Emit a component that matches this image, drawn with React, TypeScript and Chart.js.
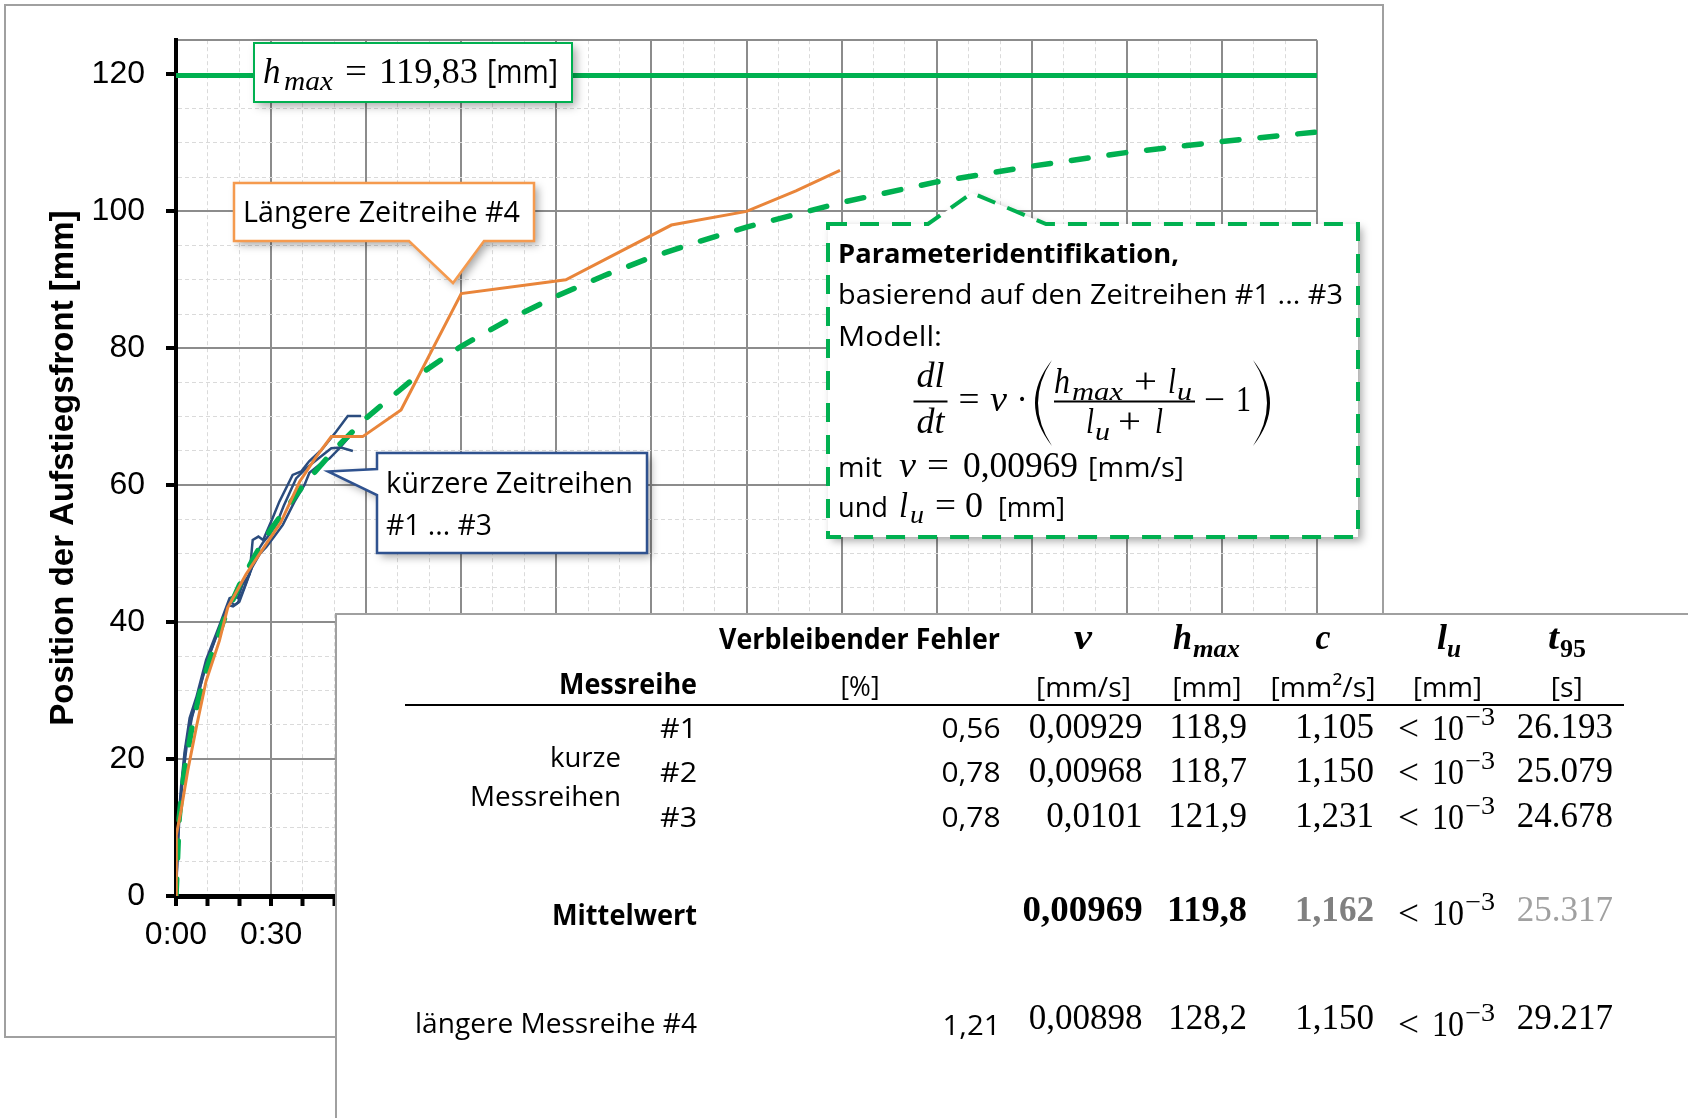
import { useEffect, useRef } from 'react';
import { Chart, registerables } from 'chart.js';
Chart.register(...registerables);

// ---------------- data ----------------
const hMax = 119.83;

// model curve (green dashed): time [min], position [mm]
const modelTime = [0, 1, 2, 3, 5, 7.5, 10, 15, 20, 25, 30, 40, 50, 60, 75, 90, 105, 120, 135, 150, 165, 180, 210, 240, 270, 300, 330, 360];
const modelPos = [0, 11.4, 15.9, 19.3, 24.5, 29.6, 33.6, 40.2, 45.4, 49.8, 53.6, 59.9, 65.2, 69.8, 75.6, 80.3, 84.2, 87.6, 90.6, 93.3, 95.6, 97.7, 101.3, 104.3, 106.6, 108.6, 110.2, 111.6];

// longer series #4 (orange)
const s4Time = [0, 0.1, 1.6, 3.7, 6.4, 9.5, 13.7, 16.3, 22.1, 29, 33, 39, 44, 49, 58.9, 71, 90, 123, 156.3, 180, 195.6, 209.5];
const s4Pos = [0, 8.9, 12.5, 18.3, 24.6, 31.4, 37.3, 42.1, 47, 51.8, 54.5, 60.5, 64, 67.1, 67.1, 71, 88, 90, 98, 100, 103, 106];

// shorter series #1..#3 (blue)
const s1Time = [0, 0.4, 0.8, 1.6, 2.7, 4.3, 6.4, 9.5, 13.7, 16.9, 18.5, 19.5, 21, 23.2, 24.2, 26, 27.5, 30.5, 32.6, 36.8, 39.5, 42, 45.8, 50.5, 54.2, 58.4];
const s1Pos = [0, 6, 11, 16, 21, 26, 29, 34.5, 39.5, 43.5, 43.8, 43.5, 45.5, 47, 52, 52.5, 52, 55.2, 57.6, 61.5, 62, 63.5, 65.1, 67.8, 70.1, 70.1];
const s2Time = [0, 0.5, 1, 2, 3, 4.5, 6.5, 9.5, 13.5, 16.5, 18, 19.5, 21.5, 23.5, 26.3, 27.4, 29, 31.6, 34, 37.9, 41.1, 46.3, 49, 52, 55.8];
const s2Pos = [0, 7, 12, 17, 21.5, 25.5, 28.5, 34, 39, 42.5, 42.3, 42.8, 45, 47.5, 50.8, 51.6, 52.5, 54.2, 57, 61, 62.5, 64.4, 65.4, 65.5, 65];
const s3Time = [0, 0.6, 1.2, 2.2, 3.4, 5, 7, 10, 14, 17, 18.5, 20, 22, 24, 26.5, 28.5, 31, 33.7, 37.4, 40.5, 42.1, 45.8, 48.4, 51.6, 54.7];
const s3Pos = [0, 7.5, 12.5, 17.5, 22, 26, 29.5, 34.5, 39.5, 43, 42.5, 43, 45.5, 48, 50, 51, 52.5, 54.2, 57.6, 60, 61.8, 63.2, 63.9, 65.4, 67.1];

// axis ticks
const xTickValues = [0, 30, 60, 90, 120, 150, 180, 210, 240, 270, 300, 330, 360];
const xTickLabels = ['0:00', '0:30', '1:00', '1:30', '2:00', '2:30', '3:00', '3:30', '4:00', '4:30', '5:00', '5:30', '6:00'];
const yTickValues = [0, 20, 40, 60, 80, 100, 120];
const yTickLabels = ['0', '20', '40', '60', '80', '100', '120'];

// table
const shortRows = ['#1', '#2', '#3'];
const errPct = [0.56, 0.78, 0.78];
const vVals = ['0,00929', '0,00968', '0,0101'];
const hmaxVals = [118.9, 118.7, 121.9];
const cVals = [1.105, 1.15, 1.231];
const t95Vals = [26193, 25079, 24678];
const meanV = '0,00969';
const meanHmax = 119.8;
const meanC = 1.162;
const meanT95 = 25317;
const longErr = 1.21;
const longV = '0,00898';
const longHmax = 128.2;
const longC = 1.15;
const longT95 = 29217;

// ---------------- helpers ----------------
const SANS = '"Open Sans", "Noto Sans", sans-serif';
const SERIF = '"Liberation Serif", "DejaVu Serif", serif';
const ARIAL = '"Liberation Sans", Arial, sans-serif';
const GREEN = '#00B050';

const comma = (v: number, d: number) => v.toFixed(d).replace('.', ',');
const thousands = (v: number) => {
  const s = String(v);
  return s.slice(0, s.length - 3) + '.' + s.slice(s.length - 3);
};

function put(ctx: CanvasRenderingContext2D, s: string, x: number, y: number, font: string,
  align: 'left' | 'right' | 'center' = 'left', color = '#000', w?: number) {
  ctx.save();
  ctx.font = font;
  ctx.fillStyle = color;
  ctx.textBaseline = 'alphabetic';
  ctx.textAlign = 'left';
  const m = ctx.measureText(s).width;
  const k = w ? w / m : 1;
  const tw = m * k;
  const left = align === 'left' ? x : align === 'right' ? x - tw : x - tw / 2;
  ctx.translate(left, y);
  ctx.scale(k, 1);
  ctx.fillText(s, 0, 0);
  ctx.restore();
}

function shadowFill(ctx: CanvasRenderingContext2D, path: () => void) {
  ctx.save();
  ctx.shadowColor = 'rgba(0,0,0,0.35)';
  ctx.shadowBlur = 9;
  ctx.shadowOffsetX = 4;
  ctx.shadowOffsetY = 4;
  ctx.fillStyle = '#fff';
  path();
  ctx.fill();
  ctx.restore();
}

function paren(ctx: CanvasRenderingContext2D, x0: number, top: number, bot: number, bulge: number, thick: number, dir: number) {
  const mid = (top + bot) / 2;
  ctx.beginPath();
  ctx.moveTo(x0, top);
  ctx.quadraticCurveTo(x0 + dir * bulge * 2, mid, x0, bot);
  ctx.quadraticCurveTo(x0 + dir * (bulge - thick) * 2, mid, x0, top);
  ctx.closePath();
  ctx.fill();
}

function lessPow(ctx: CanvasRenderingContext2D, y: number) {
  put(ctx, '<', 1398, y + 2, `36px ${SERIF}`, 'left', '#000', 21);
  put(ctx, '10', 1432, y + 2, `36px ${SERIF}`, 'left', '#000', 32);
  put(ctx, '\u22123', 1465, y - 13, `25px ${SERIF}`, 'left', '#000', 30);
}

const decor = {
  id: 'decor',
  beforeDraw(chart: any) {
    const ctx: CanvasRenderingContext2D = chart.ctx;
    ctx.save();
    ctx.fillStyle = '#fff';
    ctx.fillRect(0, 0, chart.width, chart.height);
    ctx.strokeStyle = '#A0A0A0';
    ctx.lineWidth = 2;
    ctx.strokeRect(5, 5, 1378, 1032);
    ctx.restore();
  },
  afterDatasetsDraw(chart: any) {
    const ctx: CanvasRenderingContext2D = chart.ctx;
    ctx.save();

    // h_max box
    const hb = () => { ctx.beginPath(); ctx.rect(254, 43, 318, 59); };
    shadowFill(ctx, hb);
    hb(); ctx.strokeStyle = GREEN; ctx.lineWidth = 2; ctx.stroke();
    put(ctx, 'h', 263, 83, `italic 35px ${SERIF}`);
    put(ctx, 'max', 284, 90, `italic 27px ${SERIF}`, 'left', '#000', 49);
    put(ctx, '=', 345, 83, `35px ${SERIF}`, 'left', '#000', 22);
    put(ctx, comma(hMax, 2), 379, 83, `35px ${SERIF}`, 'left', '#000', 99);
    put(ctx, '[mm]', 487, 83, `32px ${SANS}`, 'left', '#000', 71);

    // orange callout
    const ob = () => {
      ctx.beginPath();
      ctx.moveTo(234, 183); ctx.lineTo(534, 183); ctx.lineTo(534, 241); ctx.lineTo(484, 241);
      ctx.lineTo(453, 283); ctx.lineTo(409, 241); ctx.lineTo(234, 241); ctx.closePath();
    };
    shadowFill(ctx, ob);
    ob(); ctx.strokeStyle = '#F59A4E'; ctx.lineWidth = 2.5; ctx.lineJoin = 'miter'; ctx.stroke();
    put(ctx, 'Längere Zeitreihe #4', 243, 222, `29px ${SANS}`, 'left', '#000', 277);

    // blue callout
    const bb = () => {
      ctx.beginPath();
      ctx.moveTo(377, 453); ctx.lineTo(647, 453); ctx.lineTo(647, 553); ctx.lineTo(377, 553);
      ctx.lineTo(377, 495); ctx.lineTo(328, 471.5); ctx.lineTo(377, 469); ctx.closePath();
    };
    shadowFill(ctx, bb);
    bb(); ctx.strokeStyle = '#2F528F'; ctx.lineWidth = 2.5; ctx.stroke();
    put(ctx, 'kürzere Zeitreihen', 386, 493, `29px ${SANS}`, 'left', '#000', 247);
    put(ctx, '#1 ... #3', 386, 535, `29px ${SANS}`, 'left', '#000', 106);

    // parameter callout
    const pb = () => {
      ctx.beginPath();
      ctx.moveTo(828, 224); ctx.lineTo(928, 224); ctx.lineTo(972, 193); ctx.lineTo(1046, 224);
      ctx.lineTo(1358, 224); ctx.lineTo(1358, 537); ctx.lineTo(828, 537); ctx.closePath();
    };
    shadowFill(ctx, pb);
    pb(); ctx.save(); ctx.strokeStyle = GREEN; ctx.lineWidth = 4; ctx.setLineDash([19, 13]); ctx.stroke(); ctx.restore();

    put(ctx, 'Parameteridentifikation,', 838, 263, `bold 27px ${SANS}`, 'left', '#000', 341);
    put(ctx, 'basierend auf den Zeitreihen #1 ... #3', 838, 304, `27px ${SANS}`, 'left', '#000', 505);
    put(ctx, 'Modell:', 838, 346, `27px ${SANS}`, 'left', '#000', 104);
    // formula
    const MI = `italic 35px ${SERIF}`;
    const MR = `35px ${SERIF}`;
    const MS = `italic 25px ${SERIF}`;
    put(ctx, 'dl', 930.5, 387, MI, 'center', '#000', 28);
    put(ctx, 'dt', 930.5, 433, MI, 'center', '#000', 28);
    ctx.fillStyle = '#000';
    ctx.fillRect(913.5, 400.5, 34, 2);
    put(ctx, '=', 969, 411, MR, 'center', '#000', 21);
    put(ctx, 'v', 990, 411, MI, 'left', '#000', 17);
    put(ctx, '\u00B7', 1022, 411, MR, 'center');
    paren(ctx, 1052, 360, 446, 17, 3, -1);
    paren(ctx, 1253, 360, 446, 17, 3, 1);
    put(ctx, 'h', 1054, 393, MI, 'left', '#000', 16);
    put(ctx, 'max', 1072, 400, MS, 'left', '#000', 51);
    put(ctx, '+', 1134, 393, MR, 'left', '#000', 23);
    put(ctx, 'l', 1168, 393, MI, 'left', '#000', 8);
    put(ctx, 'u', 1177, 400, MS, 'left', '#000', 15);
    ctx.fillRect(1054, 400.5, 141, 2);
    put(ctx, 'l', 1086, 433, MI, 'left', '#000', 8);
    put(ctx, 'u', 1095, 440, MS, 'left', '#000', 15);
    put(ctx, '+', 1118, 433, MR, 'left', '#000', 23);
    put(ctx, 'l', 1155, 433, MI, 'left', '#000', 8);
    put(ctx, '\u2212', 1204, 411, MR, 'left', '#000', 21);
    put(ctx, '1', 1236, 411, MR, 'left', '#000', 15);
    // mit / und
    put(ctx, 'mit', 838, 477, `27px ${SANS}`, 'left', '#000', 44);
    put(ctx, 'v', 899, 477, MI, 'left', '#000', 17);
    put(ctx, '=', 927, 477, MR, 'left', '#000', 22);
    put(ctx, meanV, 963, 477, MR, 'left', '#000', 115);
    put(ctx, '[mm/s]', 1088, 477, `27px ${SANS}`, 'left', '#000', 96);
    put(ctx, 'und', 838, 517, `27px ${SANS}`, 'left', '#000', 50);
    put(ctx, 'l', 899, 517, MI, 'left', '#000', 9);
    put(ctx, 'u', 910, 523, MS, 'left', '#000', 14);
    put(ctx, '=', 935, 517, MR, 'left', '#000', 21);
    put(ctx, '0', 965, 517, MR, 'left', '#000', 18);
    put(ctx, '[mm]', 998, 517, `27px ${SANS}`, 'left', '#000', 67);

    ctx.restore();
  },
  afterDraw(chart: any) {
    const ctx: CanvasRenderingContext2D = chart.ctx;
    ctx.save();
    // table panel
    ctx.fillStyle = '#fff';
    ctx.fillRect(336, 614, 1400, 600);
    ctx.strokeStyle = '#A0A0A0';
    ctx.lineWidth = 2;
    ctx.beginPath();
    ctx.moveTo(336, 1130); ctx.lineTo(336, 614); ctx.lineTo(1700, 614);
    ctx.stroke();

    const S = `28px ${SANS}`;
    const SB = `bold 28px ${SANS}`;
    const N = `35px ${SERIF}`;
    const NB = `bold 36px ${SERIF}`;
    const HB = `italic bold 35px ${SERIF}`;
    const HS = `italic bold 25px ${SERIF}`;

    // header
    put(ctx, 'Verbleibender Fehler', 1000, 649, SB, 'right', '#000', 281);
    put(ctx, 'v', 1083, 649, HB, 'center', '#000', 18);
    put(ctx, 'h', 1173, 649, HB, 'left', '#000', 19);
    put(ctx, 'max', 1193, 657, HS, 'left', '#000', 47);
    put(ctx, 'c', 1323, 649, HB, 'center', '#000', 15);
    put(ctx, 'l', 1437, 649, HB, 'left', '#000', 10);
    put(ctx, 'u', 1447, 657, HS, 'left', '#000', 14);
    put(ctx, 't', 1548, 649, HB, 'left', '#000', 11);
    put(ctx, '95', 1560, 657, `bold 25px ${SERIF}`, 'left', '#000', 26);
    put(ctx, 'Messreihe', 697, 694, SB, 'right', '#000', 138);
    put(ctx, '[%]', 860, 696, S, 'center', '#000', 39);
    put(ctx, '[mm/s]', 1083.5, 697, S, 'center', '#000', 95);
    put(ctx, '[mm]', 1207, 697, S, 'center', '#000', 69);
    put(ctx, '[mm\u00B2/s]', 1323, 697, S, 'center', '#000', 105);
    put(ctx, '[mm]', 1447.5, 697, S, 'center', '#000', 69);
    put(ctx, '[s]', 1566.7, 697, S, 'center', '#000', 32);
    ctx.fillStyle = '#000';
    ctx.fillRect(405, 704, 1219, 2);

    const rowY = [738, 782, 827];
    shortRows.forEach((r, i) => {
      const y = rowY[i];
      put(ctx, r, 697, y, S, 'right', '#000', 37);
      put(ctx, comma(errPct[i], 2), 1000.5, y, S, 'right', '#000', 59);
      put(ctx, vVals[i], 1142.6, y, N, 'right');
      put(ctx, comma(hmaxVals[i], 1), 1247, y, N, 'right');
      put(ctx, comma(cVals[i], 3), 1374, y, N, 'right');
      lessPow(ctx, y);
      put(ctx, thousands(t95Vals[i]), 1613, y, N, 'right');
    });
    put(ctx, 'kurze', 621, 767, S, 'right', '#000', 71);
    put(ctx, 'Messreihen', 621, 806, S, 'right', '#000', 151);

    // mean row
    put(ctx, 'Mittelwert', 697, 925, SB, 'right', '#000', 145);
    put(ctx, meanV, 1142.6, 921, NB, 'right', '#000', 120);
    put(ctx, comma(meanHmax, 1), 1247, 921, NB, 'right', '#000', 80);
    put(ctx, comma(meanC, 3), 1374, 921, NB, 'right', '#808080', 79);
    lessPow(ctx, 923);
    put(ctx, thousands(meanT95), 1613, 921, N, 'right', '#A0A0A0');

    // long row
    put(ctx, 'längere Messreihe #4', 697, 1033, S, 'right', '#000', 282);
    put(ctx, comma(longErr, 2), 1000.5, 1035, S, 'right', '#000', 58);
    put(ctx, longV, 1142.6, 1029, N, 'right');
    put(ctx, comma(longHmax, 1), 1247, 1029, N, 'right');
    put(ctx, comma(longC, 3), 1374, 1029, N, 'right');
    lessPow(ctx, 1034);
    put(ctx, thousands(longT95), 1613, 1029, N, 'right');

    ctx.restore();
  },
};

const pts = (t: number[], v: number[]) => t.map((x, i) => ({ x, y: v[i] }));

const isMajorX = (v: number) => xTickValues.includes(v);
const isMajorY = (v: number) => yTickValues.includes(v) || v === 125;

export default function App() {
  const ref = useRef<HTMLCanvasElement>(null);
  useEffect(() => {
    const blue = '#2B4C7E';
    const lineDs = (label: string, data: any[], color: string, width: number, extra: any = {}) => ({
      label, data, borderColor: color, borderWidth: width, showLine: true, pointRadius: 0,
      pointHoverRadius: 0, fill: false, tension: 0, ...extra,
    });
    const chart = new Chart(ref.current!, {
      type: 'scatter',
      data: {
        datasets: [
          lineDs('#4', pts(s4Time, s4Pos), '#E9853A', 3),
          lineDs('Modell', pts(modelTime, modelPos), GREEN, 5.5, { borderDash: [17, 21], borderCapStyle: 'round' }),
          lineDs('#1', pts(s1Time, s1Pos), blue, 2.5),
          lineDs('#2', pts(s2Time, s2Pos), blue, 2.5),
          lineDs('#3', pts(s3Time, s3Pos), blue, 2.5),
          lineDs('hmax', [{ x: 0, y: hMax }, { x: 360, y: hMax }], GREEN, 5),
        ],
      },
      options: {
        responsive: false,
        animation: false,
        devicePixelRatio: 1,
        events: [],
        layout: { padding: { left: 0, top: 38, right: 371, bottom: 162 } },
        plugins: { legend: { display: false }, tooltip: { enabled: false } },
        scales: {
          x: {
            type: 'linear',
            min: 0,
            max: 360,
            afterFit: (s: any) => { s.height = 60; },
            ticks: {
              stepSize: 10,
              autoSkip: false,
              maxRotation: 0,
              minRotation: 0,
              padding: 10,
              color: '#000',
              font: { family: ARIAL, size: 32 },
              callback: (v: any) => {
                const i = xTickValues.indexOf(Number(v));
                return i >= 0 ? xTickLabels[i] : '';
              },
            },
            grid: {
              color: (c: any) => (c.tick && isMajorX(c.tick.value) ? '#8C8C8C' : '#DADADA'),
              lineWidth: (c: any) => (c.tick && isMajorX(c.tick.value) ? 2 : 1),
              tickColor: '#000',
              tickWidth: 4,
              tickLength: 10,
            },
            border: {
              color: '#000',
              width: 5,
              dash: (c: any) => (c.tick && !isMajorX(c.tick.value) ? [4, 3] : []),
            },
          },
          y: {
            type: 'linear',
            min: 0,
            max: 125,
            afterFit: (s: any) => { s.width = 176; },
            title: {
              display: true,
              text: 'Position der Aufstiegsfront [mm]',
              color: '#000',
              font: { family: ARIAL, size: 33, weight: 'bold' },
              padding: { top: 44, bottom: 0 },
            },
            ticks: {
              stepSize: 5,
              autoSkip: false,
              padding: 21,
              color: '#000',
              font: { family: ARIAL, size: 32 },
              callback: (v: any) => {
                const i = yTickValues.indexOf(Number(v));
                return i >= 0 ? yTickLabels[i] : '';
              },
            },
            grid: {
              color: (c: any) => (c.tick && isMajorY(c.tick.value) ? '#8C8C8C' : '#DADADA'),
              lineWidth: (c: any) => (c.tick && isMajorY(c.tick.value) ? 2 : 1),
              tickColor: (c: any) => (c.tick && yTickValues.includes(c.tick.value) ? '#000' : 'rgba(0,0,0,0)'),
              tickWidth: 4,
              tickLength: 10,
            },
            border: {
              color: '#000',
              width: 4,
              dash: (c: any) => (c.tick && !isMajorY(c.tick.value) ? [4, 3] : []),
            },
          },
        },
      } as any,
      plugins: [decor as any],
    });
    return () => chart.destroy();
  }, []);
  return (
    <canvas
      ref={ref}
      width={1688}
      height={1118}
      style={{ position: 'absolute', left: 0, top: 0, display: 'block' }}
    />
  );
}
